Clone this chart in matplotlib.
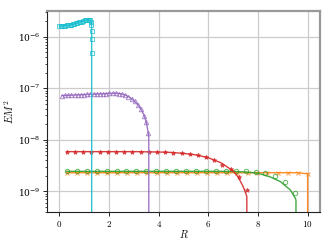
import matplotlib
matplotlib.use('Agg')
import matplotlib.pyplot as plt
from matplotlib.ticker import FuncFormatter, NullFormatter

plt.rcParams['mathtext.fontset'] = 'cm'
plt.rcParams['font.family'] = ['DejaVu Serif']
plt.rcParams['font.size'] = 6.5

# cyan series (squares), ends at R = 1.3
cyan_r = [0.00, 0.06, 0.12, 0.18, 0.24, 0.30, 0.36, 0.42, 0.48, 0.54, 0.60, 0.66,
          0.72, 0.78, 0.84, 0.90, 0.96, 1.02, 1.08, 1.14, 1.20, 1.24, 1.27, 1.29,
          1.30, 1.30, 1.30]
cyan_v = [1.60e-6, 1.61e-6, 1.62e-6, 1.63e-6, 1.65e-6, 1.66e-6, 1.68e-6, 1.70e-6,
          1.72e-6, 1.75e-6, 1.78e-6, 1.81e-6, 1.85e-6, 1.89e-6, 1.93e-6, 1.97e-6,
          2.02e-6, 2.07e-6, 2.11e-6, 2.14e-6, 2.14e-6, 2.08e-6, 1.95e-6, 1.70e-6,
          1.30e-6, 8.9e-7, 4.9e-7]
cyan_line_r = cyan_r[:24] + [1.30, 1.30]
cyan_line_v = cyan_v[:24] + [1.30e-6, 1e-12]

# purple series (triangles), ends at R = 3.6
purple_r = [0.10, 0.23, 0.36, 0.48, 0.61, 0.74, 0.87, 0.99, 1.12, 1.25, 1.38, 1.50,
            1.63, 1.76, 1.89, 2.01, 2.14, 2.27, 2.40, 2.52, 2.65, 2.78, 2.91, 3.03,
            3.16, 3.29, 3.42, 3.50, 3.58]
purple_v = [7.2e-8, 7.25e-8, 7.3e-8, 7.35e-8, 7.4e-8, 7.45e-8, 7.5e-8, 7.55e-8,
            7.6e-8, 7.65e-8, 7.7e-8, 7.75e-8, 7.8e-8, 7.85e-8, 7.9e-8, 7.95e-8,
            8.0e-8, 8.0e-8, 7.9e-8, 7.7e-8, 7.4e-8, 6.9e-8, 6.3e-8, 5.6e-8,
            4.8e-8, 3.9e-8, 2.9e-8, 2.2e-8, 1.35e-8]
purple_line_r = purple_r + [3.60, 3.60]
purple_line_v = purple_v + [1.1e-8, 1e-12]

# red series (stars), ends at R = 7.55
red_r = [0.30, 0.63, 0.96, 1.29, 1.62, 1.95, 2.28, 2.61, 2.94, 3.27, 3.60, 3.93,
         4.26, 4.59, 4.92, 5.25, 5.58, 5.91, 6.24, 6.57, 6.90, 7.23, 7.54]
red_v = [5.9e-9, 5.9e-9, 5.9e-9, 5.9e-9, 5.9e-9, 5.9e-9, 5.9e-9, 5.9e-9, 5.9e-9,
         5.85e-9, 5.85e-9, 5.8e-9, 5.75e-9, 5.65e-9, 5.5e-9, 5.35e-9, 5.1e-9,
         4.6e-9, 4.0e-9, 3.3e-9, 2.7e-9, 1.9e-9, 1.05e-9]
red_line_r = [0.30, 3.0, 4.0, 4.5, 5.0, 5.5, 6.0, 6.5, 7.0, 7.2, 7.4, 7.55, 7.55]
red_line_v = [5.9e-9, 5.9e-9, 5.8e-9, 5.7e-9, 5.45e-9, 5.1e-9, 4.5e-9, 3.6e-9,
              2.5e-9, 1.9e-9, 1.25e-9, 8e-10, 1e-12]

# green series (circles), ends at R = 9.53
green_r = [0.30, 0.70, 1.10, 1.50, 1.90, 2.30, 2.70, 3.10, 3.50, 3.90, 4.30, 4.70,
           5.10, 5.50, 5.90, 6.30, 6.70, 7.10, 7.50, 7.90, 8.30, 8.70, 9.10, 9.50]
green_v = [2.5e-9, 2.5e-9, 2.5e-9, 2.5e-9, 2.5e-9, 2.5e-9, 2.5e-9, 2.5e-9, 2.5e-9,
           2.5e-9, 2.5e-9, 2.5e-9, 2.5e-9, 2.5e-9, 2.5e-9, 2.5e-9, 2.5e-9, 2.5e-9,
           2.48e-9, 2.4e-9, 2.25e-9, 2.0e-9, 1.55e-9, 9.5e-10]
green_line_r = [0.30, 6.5, 7.0, 7.5, 8.0, 8.5, 8.9, 9.3, 9.5, 9.53, 9.53]
green_line_v = [2.45e-9, 2.45e-9, 2.43e-9, 2.38e-9, 2.25e-9, 1.9e-9, 1.55e-9,
                1.07e-9, 7.4e-10, 6.8e-10, 1e-12]

# orange series (crosses), ends at R = 10
orange_r = [0.30, 0.70, 1.11, 1.51, 1.92, 2.32, 2.73, 3.13, 3.53, 3.94, 4.34, 4.75,
            5.15, 5.55, 5.96, 6.36, 6.77, 7.17, 7.58, 7.98, 8.38, 8.79, 9.19, 9.60,
            10.0]
orange_v = [2.3e-9] * 24 + [2.2e-9]
orange_line_r = orange_r + [10.0]
orange_line_v = orange_v + [1e-12]

xticks = [0, 2, 4, 6, 8, 10]
yticks = [1e-9, 1e-8, 1e-7, 1e-6]

fig = plt.figure(figsize=(3.32, 2.49), dpi=100)
ax = fig.add_axes([0.1416, 0.1486, 0.8224, 0.8074])

series = [
    (orange_r, orange_v, orange_line_r, orange_line_v, '#ff7f0e', 'x', False),
    (green_r, green_v, green_line_r, green_line_v, '#2ca02c', 'o', False),
    (red_r, red_v, red_line_r, red_line_v, '#d62728', '*', True),
    (purple_r, purple_v, purple_line_r, purple_line_v, '#9467bd', '^', False),
    (cyan_r, cyan_v, cyan_line_r, cyan_line_v, '#17becf', 's', False),
]
for r, v, lr, lv, c, m, filled in series:
    ax.plot(lr, lv, color=c, lw=1.0, alpha=0.9)
    ax.plot(r, v, linestyle='none', marker=m, ms=3.2, mew=0.7, color=c,
            markerfacecolor=c if filled else 'none', alpha=0.75)

ax.set_yscale('log')
ax.set_xlim(-0.5, 10.5)
ax.set_ylim(10 ** -9.4, 10 ** -5.5)
ax.set_xticks(xticks)
ax.set_yticks(yticks)
ax.xaxis.set_major_formatter(FuncFormatter(lambda x, p: r'$%d$' % x))
ax.yaxis.set_minor_formatter(NullFormatter())
ax.grid(True, which='major', color='#cccccc', lw=0.9)
ax.set_axisbelow(True)

ax.set_xlabel(r'$R$', fontsize=7.5, labelpad=-1)
ax.set_ylabel(r'$EM^2$', fontsize=7.5, labelpad=1)
ax.tick_params(labelsize=6.5, width=0.6, length=3, pad=2)
ax.tick_params(which='minor', width=0.5, length=1.8)

for s in ['left', 'bottom']:
    ax.spines[s].set_color('#222222')
    ax.spines[s].set_linewidth(0.8)
for s in ['top', 'right']:
    ax.spines[s].set_color('#999999')
    ax.spines[s].set_linewidth(1.6)

fig.savefig('out.png', dpi=100)
